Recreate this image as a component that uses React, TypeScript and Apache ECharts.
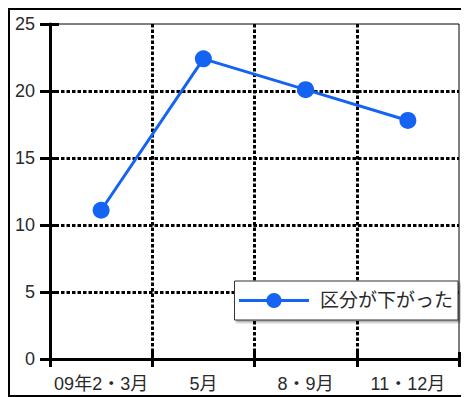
import React, { useEffect, useRef } from "react";
import * as echarts from "echarts";

const categories = ["09年2・3月", "5月", "8・9月", "11・12月"];
const seriesName = "区分が下がった";
const values = [11.1, 22.4, 20.1, 17.8];
const yMin = 0;
const yMax = 25;
const yInterval = 5;

const FONT = "'Liberation Sans', 'Noto Sans CJK JP', sans-serif";
const BLUE = "#1463F3";

export default function App() {
  const ref = useRef<HTMLDivElement>(null);
  useEffect(() => {
    if (!ref.current) return;
    const chart = echarts.init(ref.current, null, { renderer: "svg" });
    const dotted = { color: "#000", width: 3, type: [3.5, 2] as any };
    chart.setOption({
      animation: false,
      textStyle: { fontFamily: FONT },
      grid: {
        left: 40,
        top: 14,
        right: 10,
        bottom: 36,
        show: true,
        borderColor: "#000",
        borderWidth: 1,
        containLabel: false,
      },
      legend: {
        right: 11,
        top: 271,
        orient: "horizontal",
        backgroundColor: "#fff",
        borderColor: "#333",
        borderWidth: 1,
        borderRadius: 0,
        padding: [10, 5, 10, 3],
        itemWidth: 70,
        itemHeight: 19,
        shadowColor: "rgba(0,0,0,0.35)",
        shadowOffsetX: 2,
        shadowOffsetY: 2,
        shadowBlur: 2,
        lineStyle: { width: 3, color: BLUE },
        textStyle: { fontSize: 19, color: "#2a2a2a", fontFamily: FONT, padding: [0, 0, 0, 6] },
        data: [seriesName],
      },
      xAxis: [
        {
          type: "category",
          data: categories,
          boundaryGap: true,
          axisLine: { show: true, lineStyle: { color: "#000", width: 3 } },
          axisTick: { show: true, interval: 0, length: 8, lineStyle: { color: "#000", width: 3 } },
          axisLabel: { color: "#2a2a2a", fontSize: 18, margin: 16, interval: 0, hideOverlap: false, fontFamily: FONT },
          splitLine: { show: true, interval: 0, showMinLine: false, showMaxLine: false, lineStyle: dotted },
        },
        {
          type: "category",
          data: categories,
          position: "bottom",
          boundaryGap: true,
          axisLine: { show: false },
          axisTick: { show: true, interval: 0, inside: true, length: 7, lineStyle: { color: "#000", width: 3 } },
          axisLabel: { show: false, interval: 0 },
          splitLine: { show: false },
        },
      ],
      yAxis: [
        {
          type: "value",
          min: yMin,
          max: yMax,
          interval: yInterval,
          axisLine: { show: true, lineStyle: { color: "#000", width: 3 } },
          axisTick: { show: true, length: 10, lineStyle: { color: "#000", width: 3 } },
          axisLabel: { color: "#2a2a2a", fontSize: 18, margin: 15, fontFamily: FONT },
          splitLine: { show: true, showMinLine: false, showMaxLine: false, lineStyle: dotted },
        },
        {
          type: "value",
          min: yMin,
          max: yMax,
          interval: yInterval,
          position: "left",
          axisLine: { show: false },
          axisTick: { show: true, inside: true, length: 9, lineStyle: { color: "#000", width: 3 } },
          axisLabel: { show: false },
          splitLine: { show: false },
        },
      ],
      series: [
        {
          name: seriesName,
          type: "line",
          data: values,
          xAxisIndex: 0,
          yAxisIndex: 0,
          symbol: "circle",
          symbolSize: 17,
          itemStyle: { color: BLUE },
          lineStyle: { color: BLUE, width: 3 },
          z: 10,
        },
      ],
    });
    return () => chart.dispose();
  }, []);
  return (
    <div
      ref={ref}
      style={{
        width: 459,
        height: 385,
        borderTop: "2px solid #000",
        borderLeft: "2px solid #000",
        borderBottom: "2px solid #000",
        background: "#fff",
      }}
    />
  );
}
